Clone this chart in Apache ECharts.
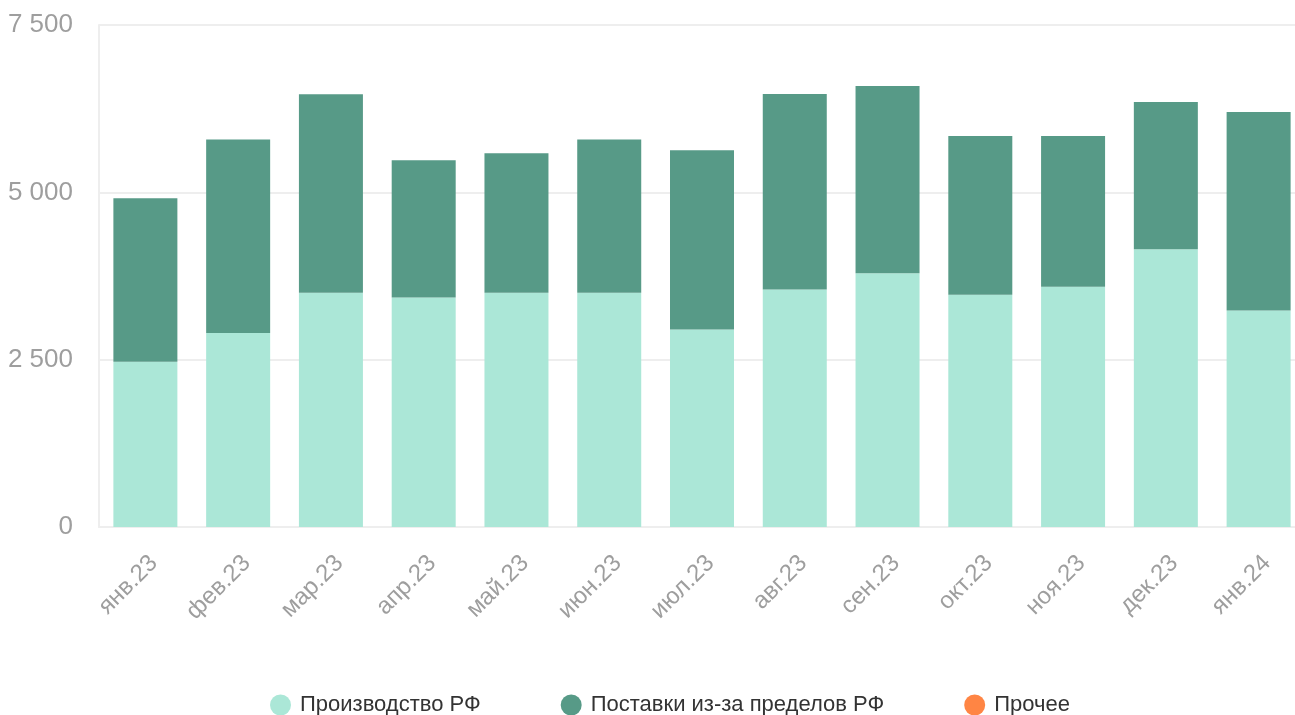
<!DOCTYPE html>
<html>
<head>
<meta charset="utf-8">
<script src="https://cdn.jsdelivr.net/npm/echarts@6/dist/echarts.min.js"></script>
<style>
  html, body { margin: 0; padding: 0; background: #fff; overflow: hidden; }
  #chart { width: 1310px; height: 715px; }
</style>
</head>
<body>
<div id="chart"></div>
<script>
// месяцы
var months = ['янв.23','фев.23','мар.23','апр.23','май.23','июн.23','июл.23','авг.23','сен.23','окт.23','ноя.23','дек.23','янв.24'];
// производство РФ
var domestic = [2470, 2900, 3500, 3430, 3500, 3500, 2950, 3550, 3790, 3470, 3590, 4150, 3235];
// поставки из-за пределов РФ
var imports = [2440, 2890, 2965, 2050, 2085, 2290, 2680, 2920, 2800, 2370, 2250, 2200, 2965];
// прочее
var other = [0, 0, 0, 0, 0, 0, 0, 0, 0, 0, 0, 0, 0];
var yTicks = [0, 2500, 5000, 7500];

var fmt = function(v){
    return String(v).replace(/\B(?=(\d{3})+(?!\d))/g, ' ');
};

var myChart = echarts.init(document.getElementById('chart'));
var option = {
    animation: false,
    textStyle: { fontFamily: 'Liberation Sans, Arial, sans-serif' },
    grid: { left: 99, right: 5, top: 25, height: 502, containLabel: false },
    legend: {
        top: 689,
        left: 265,
        icon: 'circle',
        itemWidth: 21,
        itemHeight: 21,
        itemGap: 80,
        textStyle: { fontSize: 22, color: '#333', padding: [0, 0, 0, 4] },
        data: ['Производство РФ', 'Поставки из-за пределов РФ', 'Прочее']
    },
    xAxis: {
        type: 'category',
        data: months,
        axisLine: { show: true, lineStyle: { color: '#eeeeee', width: 2 } },
        axisTick: { show: false },
        axisLabel: { rotate: 45, fontSize: 24, color: '#9e9e9e', margin: 24, verticalAlign: 'top' }
    },
    yAxis: {
        type: 'value',
        min: yTicks[0],
        max: yTicks[yTicks.length - 1],
        interval: 2500,
        axisLine: { show: true, lineStyle: { color: '#eeeeee', width: 2 } },
        axisTick: { show: false },
        splitLine: { lineStyle: { color: '#eeeeee', width: 2 } },
        axisLabel: { fontSize: 26, color: '#9e9e9e', margin: 26, formatter: fmt }
    },
    series: [
        {
            name: 'Производство РФ',
            type: 'bar',
            stack: 'total',
            barWidth: 64,
            itemStyle: { color: '#abe7d7' },
            data: domestic
        },
        {
            name: 'Поставки из-за пределов РФ',
            type: 'bar',
            stack: 'total',
            barWidth: 64,
            itemStyle: { color: '#579a87' },
            data: imports
        },
        {
            name: 'Прочее',
            type: 'bar',
            stack: 'total',
            barWidth: 64,
            itemStyle: { color: '#ff8544' },
            data: other
        }
    ]
};
myChart.setOption(option);
</script>
</body>
</html>
